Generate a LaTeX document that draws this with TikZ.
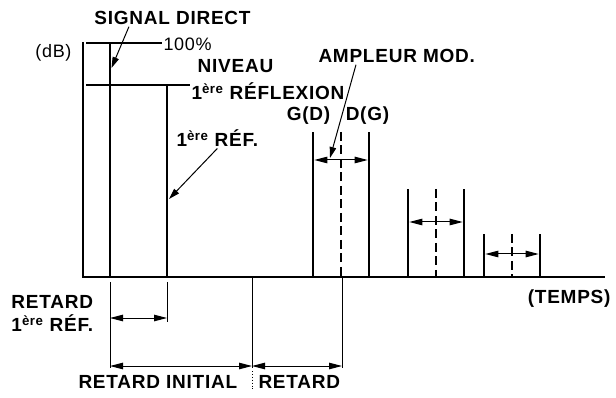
\documentclass[tikz,border=0pt]{standalone}
\usepackage{fontspec}
\setmainfont{Liberation Sans}[LetterSpace=4]
\usetikzlibrary{arrows.meta, positioning}
\tikzset{
  every picture/.style={line width=1pt},
  lbl/.style={font=\fontsize{19}{21}\selectfont\bfseries, inner sep=1pt},
  plainlbl/.style={font=\fontsize{18}{20}\selectfont, inner sep=1pt},
  spike/.style={line width=2.6pt},
  centreline/.style={line width=2.2pt, dash pattern=on 9pt off 4.5pt},
  level/.style={line width=1.5pt},
  axis/.style={line width=1.8pt},
  extline/.style={line width=0.9pt},
  dimline/.style={{Triangle[length=13pt,width=6.5pt]}-{Triangle[length=13pt,width=6.5pt]}, line width=1pt},
  leader/.style={-{Triangle[length=11pt,width=6.5pt]}, line width=1pt},
}
\newcommand{\ere}{1\textsuperscript{ère}}

\begin{document}
\begin{tikzpicture}[x=1pt, y=-1pt]
  \useasboundingbox (0,0) rectangle (616,398);
  % axes
  \coordinate (o) at (83,277);
  \coordinate (ytop) at (83,42);
  \coordinate (xend) at (605,277);
  \draw[axis] (ytop) -- (o) -- (xend);
  \node[plainlbl, anchor=base east] (db) at (73,58) {(dB)};
  \node[lbl, anchor=base east] (temps) at (612,303) {(TEMPS)};
  % direct signal, 100%
  \node[plainlbl, anchor=base west] (full) at (162,51) {100\%};
  \coordinate (lvl1) at (86,43);
  \draw[level] (lvl1) -- (lvl1 -| full.west);
  \draw[spike] (110,43) -- (110,277);
  \node[lbl, anchor=base] (sig) at (172.5,25) {SIGNAL DIRECT};
  \coordinate (dtip) at (111.5,68);
  \draw[leader] ([xshift=36pt]sig.south west) -- (dtip);
  % modulation width, drawn under the reflexion label
  \node[lbl, anchor=base west] (amp) at (317,63) {AMPLEUR MOD.};
  \coordinate (atip) at (330,158);
  \draw[leader] ([xshift=39pt]amp.south west) -- (atip);
  % first reflection level
  \node[lbl, anchor=base] (niv) at (235.5,73) {NIVEAU};
  \node[lbl, anchor=base west, fill=white] (refl) at (190,100) {\ere{} RÉFLEXION};
  \coordinate (lvl2) at (86,85);
  \draw[level] (lvl2) -- (lvl2 -| refl.west);
  \draw[spike] (167,85) -- (167,277);
  \node[lbl, anchor=base west] (ref1) at (175,147) {\ere{} RÉF.};
  \coordinate (rtip) at (169,199);
  \draw[leader] (ref1.south) -- (rtip);
  % later reflections, left and right
  \node[lbl, anchor=base] (gd) at (308.5,121) {G(D)};
  \node[lbl, anchor=base] (dg) at (367.5,121) {D(G)};
  \foreach \x/\t/\y [count=\i] in {313/132/160, 408/189/222, 484/234/254} {
    \draw[spike] (\x,277) -- (\x,\t) (\x+56,277) -- (\x+56,\t);
    \draw[centreline] (\x+28,\t) -- (\x+28,277);
    \coordinate (g\i l) at (\x+1.3,\y);
    \coordinate (g\i r) at (\x+54.7,\y);
    \draw[dimline] (g\i l) -- (g\i r);
  }
  % delays
  \draw[extline] (110,282) -- (110,368);
  \draw[extline] (167,282) -- (167,322);
  \draw[extline] (252,277) -- (252,368);
  \draw[extline] (342,277) -- (342,368);
  \draw[extline, dotted] (252,371) -- (252,391);
  \coordinate (d1a) at (110,318);
  \coordinate (d1b) at (167,318);
  \draw[dimline] (d1a) -- (d1b);
  \coordinate (d2a) at (110,366);
  \coordinate (d2b) at (252,366);
  \coordinate (d2c) at (342,366);
  \draw[dimline] (d2a) -- (d2b);
  \draw[dimline] (d2b) -- (d2c);
  \node[lbl, anchor=base west] (ret1) at (10,308) {RETARD};
  \node[lbl, anchor=base west] (ret1b) at (10,331.5) {\ere{} RÉF.};
  \node[lbl, anchor=base west] (init) at (77,388) {RETARD INITIAL};
  \node[lbl, anchor=base west] (ret2) at (257,388) {RETARD};
\end{tikzpicture}
\end{document}
